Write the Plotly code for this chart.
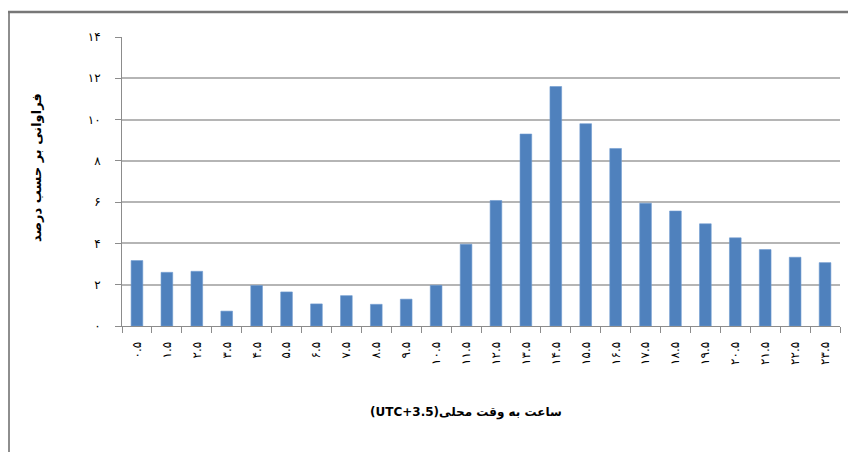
import plotly.graph_objects as go

# Data
hour_labels = ["۰.۵", "۱.۵", "۲.۵", "۳.۵", "۴.۵", "۵.۵", "۶.۵", "۷.۵", "۸.۵", "۹.۵",
               "۱۰.۵", "۱۱.۵", "۱۲.۵", "۱۳.۵", "۱۴.۵", "۱۵.۵", "۱۶.۵", "۱۷.۵",
               "۱۸.۵", "۱۹.۵", "۲۰.۵", "۲۱.۵", "۲۲.۵", "۲۳.۵"]
frequency_pct = [3.17, 2.6, 2.65, 0.72, 1.96, 1.65, 1.07, 1.47, 1.05, 1.3,
                 1.97, 3.96, 6.08, 9.3, 11.6, 9.8, 8.6, 5.95, 5.57, 4.95,
                 4.27, 3.7, 3.33, 3.07]
y_tick_vals = [0, 2, 4, 6, 8, 10, 12, 14]
y_tick_text = ["۰", "۲", "۴", "۶", "۸", "۱۰", "۱۲", "۱۴"]

x_title = "(UTC+3.5)ساعت به وقت محلی"
y_title = "فراوانی بر حسب درصد"

OFF = 8  # page body margin
W, H = 856 - OFF, 452 - OFF
L, R, T, B = 114, 16, 29, 126
pw, ph = W - L - R, H - T - B

def px(x):  # page x -> paper
    return (x - OFF - L) / pw

def py(y):  # page y -> paper
    return (H - B - (y - OFF)) / ph

fig = go.Figure(go.Bar(
    x=hour_labels, y=frequency_pct,
    marker=dict(color="#4F81BD", line=dict(color="#6F9AD0", width=0.6)),
))

font_fam = "DejaVu Sans, Noto Sans, sans-serif"

fig.update_layout(
    width=W, height=H,
    margin=dict(l=L, r=R, t=T, b=B),
    paper_bgcolor="white", plot_bgcolor="white",
    bargap=0.61,
    showlegend=False,
    font=dict(family=font_fam, size=12, color="#000000"),
    xaxis=dict(
        type="category",
        tickson="boundaries",
        ticks="outside", ticklen=6, tickcolor="#8C8C8C", tickwidth=1,
        showline=True, linecolor="#8C8C8C", linewidth=1,
        showgrid=False,
        tickangle=-90,
        tickfont=dict(size=12, color="#000000"),
        ticklabelstandoff=10,
    ),
    yaxis=dict(
        range=[0, 14],
        tickvals=y_tick_vals, ticktext=y_tick_text,
        ticks="outside", ticklen=6, tickcolor="#8C8C8C", tickwidth=1,
        showline=True, linecolor="#8C8C8C", linewidth=1,
        showgrid=True, gridcolor="#B5B5B5", gridwidth=1.5,
        zeroline=False,
        tickfont=dict(size=12, color="#000000"),
        ticklabelstandoff=12,
    ),
    annotations=[
        dict(text="<b>" + x_title + "</b>", xref="paper", yref="paper",
             x=px(466), y=py(412), showarrow=False,
             font=dict(size=12, color="#000000", family=font_fam),
             xanchor="center", yanchor="middle"),
        dict(text="<b>" + y_title + "</b>", xref="paper", yref="paper",
             x=px(37), y=py(168), showarrow=False, textangle=-90,
             font=dict(size=13, color="#000000", family=font_fam),
             xanchor="center", yanchor="middle"),
    ],
    shapes=[
        dict(type="line", xref="paper", yref="paper",
             x0=px(9), x1=px(9), y0=py(11), y1=py(470),
             line=dict(color="#8E8E8E", width=2), layer="above"),
        dict(type="line", xref="paper", yref="paper",
             x0=px(8), x1=px(856), y0=py(12), y1=py(12),
             line=dict(color="#777777", width=2.5), layer="above"),
    ],
)

fig.write_html("out.html")
